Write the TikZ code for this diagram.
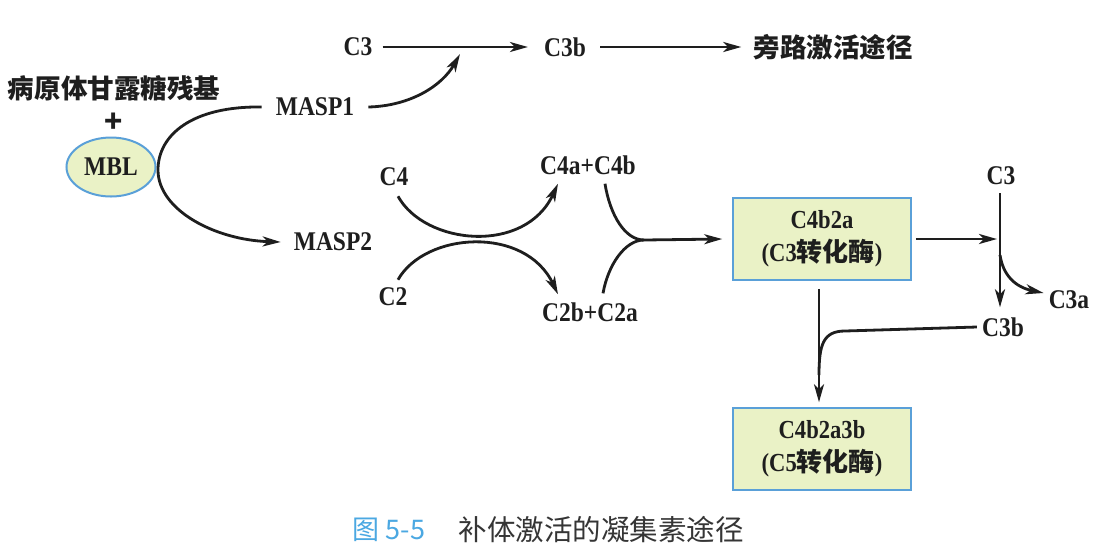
\documentclass[tikz,border=0pt]{standalone}
\usepackage{fontspec}
\setmainfont{Liberation Serif}[FakeStretch=0.87]
\newfontfamily\cjk{Noto Sans CJK SC}
\usetikzlibrary{arrows.meta,shapes.geometric}
\definecolor{boxfill}{HTML}{EAF2C6}
\definecolor{boxline}{HTML}{5AA0D8}
\definecolor{capblue}{HTML}{4BA8E2}
\definecolor{ink}{HTML}{1E1E1E}
\begin{document}
\begin{tikzpicture}[x=1pt,y=-1pt,
  lbl/.style={font=\fontsize{27}{29}\selectfont\bfseries, inner sep=0pt, text=ink},
  cn/.style={font=\fontsize{26.5}{28}\selectfont\cjk\bfseries, inner sep=0pt, text=ink},
  arr/.style={draw=ink, line width=2.8pt, -{Stealth[length=18pt,width=10pt,inset=5pt]}},
  ln/.style={draw=ink, line width=2.8pt},
  enz/.style={draw=boxline, fill=boxfill, line width=1.6pt, minimum width=178pt,
    minimum height=82pt, align=center, inner sep=0pt, text=ink,
    font=\fontsize{26}{33}\selectfont\bfseries}]
\useasboundingbox (0,0) rectangle (1110,550);
\fill[white] (0,0) rectangle (1110,550);
% nodes
\node[lbl] (c3top) at (358,47) {C3};
\node[lbl] (c3btop) at (565,47) {C3b};
\node[cn] (alt) at (833,47) {旁路激活途径};
\node[cn] (pat) at (114,88) {病原体甘露糖残基};
\node[cn, font=\fontsize{30}{30}\selectfont\cjk\bfseries] (plus) at (114,123) {+};
\node[lbl, ellipse, draw=boxline, fill=boxfill, line width=2pt, minimum width=89pt, minimum height=59pt] (mbl) at (111,167) {MBL};
\node[lbl] (masp1) at (315,107) {MASP1};
\node[lbl] (masp2) at (333,242) {MASP2};
\node[lbl] (c4) at (394,177) {C4};
\node[lbl] (c2) at (393,297) {C2};
\node[lbl] (c4ab) at (588,165) {C4a+C4b};
\node[lbl] (c2ba) at (590,312) {C2b+C2a};
\node[enz] (e3) at (822,239) {C4b2a\\(C3{\cjk\bfseries 转化酶})};
\node[lbl] (c3r) at (1001,176) {C3};
\node[lbl] (c3a) at (1069,300) {C3a};
\node[lbl] (c3br) at (1003,327) {C3b};
\node[enz] (e5) at (822,449) {C4b2a3b\\(C5{\cjk\bfseries 转化酶})};
\node[inner sep=0pt, text=capblue, font=\fontsize{27}{28}\selectfont\cjk] (fig) at (389,530) {图 5-5};
\node[inner sep=0pt, text=ink!90, font=\fontsize{28.5}{29}\selectfont\cjk] (cap) at (601,530) {补体激活的凝集素途径};
% junction coordinates
\coordinate (j1) at (460,54);
\coordinate (m) at (644,240);
\coordinate (v) at (1000,239);
\coordinate (b) at (1000,255);
% connectors
\draw[arr] ([xshift=10pt]c3top.east) -- ([xshift=-16pt]c3btop.west);
\draw[arr] ([xshift=14pt]c3btop.east) -- ([xshift=-12pt]alt.west);
\draw[arr] ([xshift=14pt]masp1.east) .. controls (410,106) and (442,86) .. (j1);
\draw[arr] ([xshift=-14pt]masp1.west) .. controls (192,106) and (158,135) .. (158,170)
  .. controls (158,210) and (215,240) .. ([xshift=-13pt]masp2.west);
\draw[arr] ([shift={(4,10)}]c4.south) .. controls (425,245) and (525,255) .. ([shift={(18,9)}]c4ab.south west);
\draw[arr] ([shift={(5,-8)}]c2.north) .. controls (425,232) and (525,225) .. ([shift={(16,-8)}]c2ba.north west);
\draw[ln] ([shift={(17,9)}]c4ab.south) .. controls (610,215) and (625,240) .. (m);
\draw[ln] ([shift={(13,-9)}]c2ba.north) .. controls (608,265) and (625,240) .. (m);
\draw[arr] (m) -- ([xshift=-10pt]e3.west);
\draw[arr] ([xshift=4pt]e3.east) -- ([xshift=-3pt]v);
\draw[arr] ([xshift=-1pt,yshift=-8pt]c3r.south) -- ([xshift=-3pt,yshift=10pt]c3br.north);
\draw[arr] (b) .. controls (1003,275) and (1015,287) .. ([shift={(-5,-7)}]c3a.west);
\draw[ln] ([xshift=-5pt]c3br.west) -- (845,331) .. controls (823,331) and (819,345) .. (819,375);
\draw[arr] ([xshift=-3pt,yshift=-8pt]e3.south) -- ([xshift=-3pt,yshift=5pt]e5.north);
\end{tikzpicture}
\end{document}
